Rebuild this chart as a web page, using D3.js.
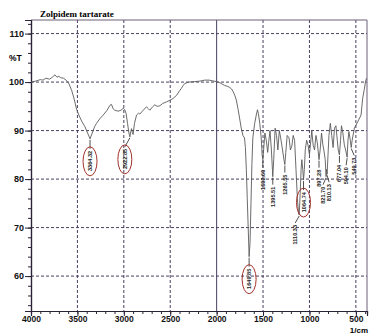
<!DOCTYPE html>
<html>
<head>
<meta charset="utf-8">
<script src="https://cdn.jsdelivr.net/npm/d3@7"></script>
<style>
  body { margin: 0; background: #fff; }
  svg { display: block; }
</style>
</head>
<body>
<div id="chart"></div>
<script>
// spectrum, wavenumber (1/cm) and transmittance (%T)
const wavenumbers = [
  4000, 3950, 3900, 3870, 3840, 3800, 3770, 3742, 3720, 3700, 3680, 3650, 3616, 3590, 3562, 3535,
  3509, 3480, 3450, 3419, 3390, 3364, 3340, 3315, 3294, 3260, 3222, 3180, 3150, 3133, 3115, 3097,
  3061, 3030, 3007, 2990, 2975, 2960, 2945, 2935, 2925, 2917, 2908, 2900, 2885, 2863, 2840, 2828,
  2800, 2756, 2735, 2720, 2690, 2667, 2640, 2613, 2580, 2541, 2500, 2470, 2430, 2400, 2380, 2360,
  2344, 2300, 2237, 2180, 2129, 2080, 2030, 2000, 1960, 1914, 1880, 1860, 1840, 1824, 1805, 1788,
  1770, 1753, 1735, 1717, 1700, 1690, 1680, 1670, 1660, 1650, 1640, 1630, 1620, 1610, 1590, 1573,
  1560, 1550, 1535, 1520, 1510, 1502, 1490, 1480, 1465, 1450, 1440, 1425, 1410, 1395, 1385, 1370,
  1355, 1340, 1325, 1310, 1290, 1275, 1265, 1255, 1240, 1220, 1205, 1190, 1175, 1160, 1145, 1130,
  1118, 1110, 1100, 1090, 1082, 1072, 1064, 1055, 1045, 1030, 1015, 1000, 990, 975, 960, 945,
  930, 915, 897, 885, 870, 855, 845, 830, 821, 815, 810, 800, 790, 775, 760, 745,
  730, 715, 700, 690, 677, 665, 655, 640, 624, 610, 594, 585, 575, 560, 550, 540,
  516, 480, 444, 427, 409, 395, 385
];
const transmittance = [
  100.0, 100.2, 100.5, 100.4, 100.8, 100.6, 101.0, 101.5, 101.0, 101.2, 100.9, 100.8, 100.3, 99.6, 98.3, 96.5,
  94.4, 93.0, 91.8, 90.8, 89.5, 88.3, 89.5, 90.8, 91.5, 92.4, 93.2, 94.2, 95.2, 95.4, 94.5, 94.2,
  94.0, 94.2, 94.6, 94.3, 93.5, 91.5, 89.5, 88.7, 89.8, 90.4, 89.6, 89.2, 91.5, 93.2, 93.6, 93.4,
  94.0, 94.9, 94.5, 94.2, 94.9, 95.3, 95.0, 95.1, 95.6, 95.9, 96.3, 96.6, 97.3, 98.2, 98.7, 99.3,
  99.7, 100.0, 100.1, 100.2, 100.4, 100.4, 100.2, 100.1, 99.8, 99.3, 99.1, 98.9, 98.6, 98.1, 97.3, 96.3,
  94.5, 92.6, 90.5, 89.0, 88.5, 86.5, 82.0, 76.0, 70.0, 64.0, 67.0, 75.0, 83.0, 88.5, 91.5, 93.2,
  94.3, 93.5, 91.5, 88.5, 85.0, 84.0, 87.0, 89.5, 88.0, 85.5, 87.5, 90.0, 86.0, 80.5, 84.0, 90.5,
  89.0, 86.0, 90.0, 88.5, 86.0, 84.0, 83.0, 85.5, 89.0, 88.5, 86.0, 86.8, 89.0, 88.0, 82.0, 76.0,
  73.0, 72.6, 77.0, 82.0, 84.0, 82.0, 79.8, 82.0, 86.0, 88.0, 87.0, 85.0, 87.0, 90.0, 87.0, 86.0,
  89.0, 87.5, 84.0, 86.0, 89.5, 87.0, 86.0, 84.0, 80.5, 82.0, 81.0, 85.0, 89.0, 91.5, 89.0, 86.5,
  90.5, 91.0, 88.0, 86.0, 85.0, 88.0, 91.0, 89.5, 87.0, 86.0, 84.5, 88.0, 89.8, 88.0, 86.5, 88.0,
  90.5, 91.8, 93.2, 96.6, 98.5, 100.2, 100.8
];

// peak annotations
const peakLabels = ["3364.32", "2922.85", "1649.85", "1502.60", "1395.51", "1265.55", "1110.33",
  "1064.74", "897.28", "821.70", "810.13", "677.04", "594.10", "549.73"];
const peakPositions = [3364, 2935, 1650, 1502, 1395, 1265, 1110, 1064, 897, 821, 810, 677, 594, 550];
const peakDepths = [88.3, 88.7, 64.0, 84.0, 80.5, 83.0, 72.6, 79.8, 84.0, 80.5, 81.0, 85.0, 84.5, 86.5];
const peakCircled = [true, true, true, false, false, false, false, true, false, false, false, false, false, false];
const peakNudge = [0, -5, 0, 0, 0, 0, -4, 0, 0, -3, 2, 0, -1, 3];

const xTicks = [4000, 3500, 3000, 2500, 2000, 1500, 1000, 500];
const yTicks = [60, 70, 80, 90, 100, 110];

const WIDTH = 369;
const HEIGHT = 333;
const LEFT = 31;
const TOP = 20;
const PLOT_W = 336;
const PLOT_H = 291;
const GRID_COLOR = "#4a3f5e";
const LABEL_FONT = "'Liberation Sans', Arial, sans-serif";

const svg = d3.select("#chart")
  .append("svg")
  .attr("width", WIDTH)
  .attr("height", HEIGHT);

const x = d3.scaleLinear().domain([4000, 380]).range([LEFT, LEFT + PLOT_W]);
const y = d3.scaleLinear().domain([52.8, 112.8]).range([TOP + PLOT_H, TOP]);

// grid
svg.append("g")
  .selectAll("line")
  .data(xTicks.slice(1))
  .join("line")
  .attr("x1", d => x(d)).attr("x2", d => x(d))
  .attr("y1", TOP).attr("y2", TOP + PLOT_H)
  .attr("stroke", GRID_COLOR)
  .attr("stroke-width", 1)
  .attr("stroke-dasharray", d => d === 2000 ? null : "3,2");

svg.append("g")
  .selectAll("line")
  .data(yTicks)
  .join("line")
  .attr("x1", LEFT).attr("x2", LEFT + PLOT_W)
  .attr("y1", d => y(d)).attr("y2", d => y(d))
  .attr("stroke", GRID_COLOR)
  .attr("stroke-width", 1)
  .attr("stroke-dasharray", "3,2");

// frame top / right
svg.append("path")
  .attr("d", `M${LEFT},${TOP}H${LEFT + PLOT_W}V${TOP + PLOT_H}`)
  .attr("fill", "none")
  .attr("stroke", "#6a6078")
  .attr("stroke-width", 1);

// y axis
const yAxisMinor = svg.append("g")
  .attr("transform", `translate(${LEFT},0)`)
  .call(d3.axisLeft(y).tickValues(d3.range(54, 113, 2)).tickSize(3).tickFormat(""));
const yAxis = svg.append("g")
  .attr("transform", `translate(${LEFT},0)`)
  .call(d3.axisLeft(y).tickValues(yTicks).tickSize(6).tickPadding(1).tickFormat(d3.format("d")));

// x axis
const xAxisMinor = svg.append("g")
  .attr("transform", `translate(0,${TOP + PLOT_H})`)
  .call(d3.axisBottom(x).tickValues(d3.range(400, 4001, 100)).tickSize(3).tickFormat(""));
const xAxis = svg.append("g")
  .attr("transform", `translate(0,${TOP + PLOT_H})`)
  .call(d3.axisBottom(x).tickValues(xTicks).tickSize(5).tickPadding(0).tickFormat(d3.format("d")));

[yAxisMinor, yAxis, xAxisMinor, xAxis].forEach(g => {
  g.select(".domain").attr("stroke", "#2a2236").attr("stroke-width", 1.2);
  g.selectAll(".tick line").attr("stroke", "#2a2236");
});
yAxis.selectAll("text")
  .style("font-family", LABEL_FONT).style("font-size", "9px").style("font-weight", "bold")
  .attr("fill", "#111");
xAxis.selectAll("text")
  .style("font-family", LABEL_FONT).style("font-size", "8.5px").style("font-weight", "bold")
  .attr("fill", "#111");

// axis captions
svg.append("text")
  .attr("x", 9).attr("y", y(105) + 3)
  .style("font-family", LABEL_FONT).style("font-size", "8.5px").style("font-weight", "bold")
  .text("%T");
svg.append("text")
  .attr("x", 368).attr("y", 332.5)
  .attr("text-anchor", "end")
  .style("font-family", LABEL_FONT).style("font-size", "8px").style("font-weight", "bold")
  .text("1/cm");
svg.append("text")
  .attr("x", 40).attr("y", 17)
  .style("font-family", "'Liberation Serif', 'Times New Roman', serif").style("font-size", "9px").style("font-weight", "bold")
  .text("Zolpidem tartarate");

// spectrum
const spectrum = wavenumbers.map((w, i) => ({w: w, t: transmittance[i]}));
svg.append("path")
  .datum(spectrum)
  .attr("fill", "none")
  .attr("stroke", "#5a5a5a")
  .attr("stroke-width", 0.9)
  .attr("d", d3.line().x(d => x(d.w)).y(d => y(d.t)));

// peak labels
const peaks = peakLabels.map((label, i) => ({
  label: label,
  w: peakPositions[i],
  t: peakDepths[i],
  circled: peakCircled[i],
  nudge: peakNudge[i],
}));

const LEADER = 10;
const TEXT_LEN = 21;

const peakGroup = svg.append("g");
peaks.forEach(p => {
  const px = x(p.w);
  const lx = px + p.nudge;
  const top = y(p.t) + LEADER + (p.circled ? 2 : 0);
  peakGroup.append("path")
    .attr("d", `M${px},${y(p.t) + 1}L${lx},${top - 2}`)
    .attr("fill", "none")
    .attr("stroke", "#222")
    .attr("stroke-width", 0.8);
  peakGroup.append("text")
    .attr("transform", `translate(${lx + 2},${top}) rotate(-90)`)
    .attr("text-anchor", "end")
    .style("font-family", LABEL_FONT).style("font-size", "5.6px").style("font-weight", "bold")
    .attr("fill", "#222")
    .text(p.label);
  if (p.circled) {
    peakGroup.append("ellipse")
      .attr("cx", lx)
      .attr("cy", top + TEXT_LEN / 2)
      .attr("rx", 7)
      .attr("ry", TEXT_LEN / 2 + 4)
      .attr("fill", "none")
      .attr("stroke", "#a2322c")
      .attr("stroke-width", 1);
  }
});
</script>
</body>
</html>
